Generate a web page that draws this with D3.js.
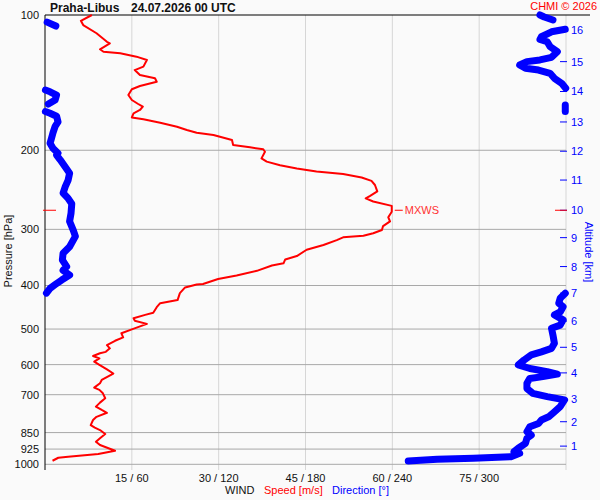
<!DOCTYPE html>
<head>
<meta charset="utf-8">
<style>
  body { margin: 0; background: #fafafa; }
  svg { display: block; }
  text { font-family: "Liberation Sans", Arial, sans-serif; }
</style>
</head>
<body>
<svg width="600" height="500"></svg>
<script src="https://cdn.jsdelivr.net/npm/d3@7"></script>
<script>

// wind speed profile: pressure [hPa] and speed [m/s]
var speedP = [982, 967, 962, 949, 933, 906, 891, 875, 856, 839, 829, 818, 797, 784, 768, 757, 744, 729, 713, 695,
  683, 675, 660, 649, 628, 615, 601, 591, 581, 574, 566, 562, 552, 543, 531, 522, 511, 501, 487, 479,
  473, 465, 460, 447, 438, 431, 416, 404, 398, 397, 387, 380, 371, 361, 357, 350, 344, 333, 325, 317,
  312.5, 310, 306, 301, 295, 288, 282, 274, 266, 260, 256, 253, 247, 239, 234, 230, 226, 223, 219.5, 216,
  212, 208.5, 201.5, 199, 197, 194.7, 189.8, 184.9, 182.8, 180.3, 177.3, 173.7, 170.7, 169, 165.5, 162.7, 160, 157.8, 154.6, 150.7,
  146.3, 143.9, 140.8, 138.3, 136, 132.6, 130.3, 125.9, 123.8, 121.7, 120.7, 119.2, 115.6, 114.7, 109.8, 105.3, 103, 100];
var speedV = [1.3, 2.3, 4.0, 9.2, 12.1, 9.5, 8.8, 9.5, 10.4, 9.5, 8.6, 7.9, 8.3, 8.9, 10.7, 9.8, 8.8, 9.5, 10.4, 10.0,
  9.4, 8.5, 9.5, 9.8, 11.8, 10.7, 9.4, 8.5, 9.4, 8.3, 9.5, 10.5, 11.2, 10.7, 12.1, 13.5, 13.2, 15.0, 17.6, 15.5,
  15.3, 17.3, 18.7, 19.3, 19.9, 22.9, 23.3, 24.2, 26.2, 27.3, 29.9, 33.1, 36.6, 39.2, 41.2, 41.5, 43.5, 45.2, 48.1, 50.4,
  51.5, 55.0, 56.7, 58.2, 58.4, 59.6, 59.3, 59.9, 59.9, 56.7, 55.4, 56.1, 57.4, 57.0, 56.4, 54.7, 51.5, 46.9, 43.5, 40.6,
  38.3, 37.4, 38.0, 37.7, 35.4, 32.5, 32.3, 29.1, 26.2, 24.5, 22.8, 19.9, 17.0, 15.0, 15.3, 16.4, 16.9, 16.1, 15.0, 14.4,
  15.0, 16.4, 19.3, 19.0, 16.4, 15.5, 17.0, 17.6, 15.8, 13.0, 10.1, 9.5, 11.2, 10.7, 8.9, 6.6, 6.2, 8.1];

// wind direction profile: pressure [hPa] and direction [deg]
var dirP = [983, 975, 970, 962, 945, 938, 921, 898, 875, 861, 846, 825, 811, 797, 784, 764, 744, 719, 707, 695,
  678, 660, 644, 638, 630, 622, 612, 601, 586, 571, 562, 552, 538, 516, 498, 490, 477, 465, 458, 446,
  438, 427, 416, 416, 406, 396, 389, 379, 370, 363, 351, 339, 328, 311, 301, 288, 276, 263, 256, 249,
  241, 233, 225, 218, 210, 205, 203, 198, 193, 188, 183, 177, 173, 168, 165.5, 164, 164, 158.6, 157.8, 154.6,
  150.7, 148.2, 146.9, 145.6, 141.9, 138.3, 134.8, 132.6, 131.4, 129.2, 127.0, 125.9, 124.2, 120.7, 117.6, 114.7, 113.3, 111.8, 109, 107.6,
  105.8, 103.7, 102.6, 101, 100];
var dirV = [251, 271, 296, 322, 328, 324, 327, 332, 333, 336, 333, 335, 341, 343, 348, 352, 356, 359, 347, 337,
  333, 333, 335, 344, 354, 347, 335, 327, 331, 336, 343, 350, 352, 351, 350, 356, 358, 352, 356, 358,
  355, 356, 359.5, 1, 3.5, 8, 11.5, 17, 12.5, 15, 12, 12.5, 17, 21, 19.5, 17, 18, 18.5, 16, 12.5,
  14, 16, 17, 14, 10.5, 8, 9, 5.5, 3.5, 4.5, 5.5, 7, 9, 8, 3.5, 0.3, 359.5, 359.5, 2.3, 7,
  8, 3.5, 0.3, 359.8, 357, 352, 349, 341, 332, 328, 333, 342, 350, 354, 349, 347, 342, 343, 350, 359.5,
  7.5, 1.5, 351, 345, 342];

var pressureTicks = [100, 200, 300, 400, 500, 600, 700, 850, 925, 1000];
var speedTicks = [15, 30, 45, 60, 75];
var dirTicks = [60, 120, 180, 240, 300];
var altKm = [1, 2, 3, 4, 5, 6, 7, 8, 9, 10, 11, 12, 13, 14, 15, 16];
var altP = [911, 804, 715, 626, 549, 480, 416, 363, 313, 272, 233, 201, 173, 148, 127, 108];
var mxwsP = 272;

var svg = d3.select("svg"),
    x0 = 45, x1 = 566, y0 = 15, y1 = 464.3;

var y = d3.scaleLog().domain([100, 1000]).range([y0, y1]);
var xs = d3.scaleLinear().domain([0, 90]).range([x0, x1]);
var xd = d3.scaleLinear().domain([0, 360]).range([x0, x1]);

// vertical grid
svg.append("g").selectAll("line")
  .data(speedTicks.concat([90]))
  .enter().append("line")
    .attr("x1", xs).attr("x2", xs)
    .attr("y1", y0).attr("y2", 470)
    .attr("stroke", "#d6d6d6");

// horizontal grid
svg.append("g").selectAll("line")
  .data(pressureTicks.slice(1))
  .enter().append("line")
    .attr("x1", x0).attr("x2", x1)
    .attr("y1", y).attr("y2", y)
    .attr("stroke", "#a8a8a8");

// frame
svg.append("line").attr("x1", x0).attr("x2", 590).attr("y1", y0).attr("y2", y0).attr("stroke", "#000");
svg.append("line").attr("x1", x0).attr("x2", x0).attr("y1", y0).attr("y2", 470).attr("stroke", "#000");

// pressure labels
svg.append("g").selectAll("text")
  .data(pressureTicks)
  .enter().append("text")
    .attr("x", 39).attr("y", y).attr("dy", "0.36em")
    .attr("text-anchor", "end").attr("font-size", 11).attr("fill", "#111")
    .text(function(d) { return d; });

svg.append("text")
  .attr("transform", "translate(12,251)rotate(-90)")
  .attr("text-anchor", "middle").attr("font-size", 11).attr("fill", "#111")
  .text("Pressure [hPa]");

// bottom labels
svg.append("g").selectAll("text")
  .data(speedTicks)
  .enter().append("text")
    .attr("x", xs).attr("y", 482)
    .attr("text-anchor", "middle").attr("font-size", 11).attr("fill", "#111")
    .text(function(d, i) { return d + " / " + dirTicks[i]; });

var cap = svg.append("text").attr("y", 494).attr("font-size", 11);
cap.append("tspan").attr("x", 225).attr("fill", "#111").text("WIND");
cap.append("tspan").attr("x", 264).attr("fill", "#ff0000").text("Speed [m/s]");
cap.append("tspan").attr("x", 332).attr("fill", "#0000ff").text("Direction [°]");

// altitude axis
var alt = svg.append("g").selectAll("g")
  .data(altKm)
  .enter().append("g")
    .attr("transform", function(d, i) { return "translate(0," + y(altP[i]) + ")"; });
alt.append("line").attr("x1", 560).attr("x2", 567).attr("stroke", "#0000ff");
alt.append("text")
  .attr("x", 571).attr("dy", "0.36em").attr("font-size", 11).attr("fill", "#0000ff")
  .text(function(d) { return d; });

svg.append("text")
  .attr("transform", "translate(585,252)rotate(90)")
  .attr("text-anchor", "middle").attr("font-size", 11).attr("fill", "#0000ff")
  .text("Altitude [km]");

// direction (split at 0/360 wrap)
var dirData = dirP.map(function(p, i) { return { p: p, d: dirV[i] }; });
var segs = [], cur = [];
dirData.forEach(function(pt, i) {
  if (i > 0 && Math.abs(pt.d - dirData[i - 1].d) > 180) { segs.push(cur); cur = []; }
  cur.push(pt);
});
segs.push(cur);

var dirLine = d3.line()
  .x(function(d) { return xd(d.d); })
  .y(function(d) { return y(d.p); });

svg.append("g").selectAll("path")
  .data(segs)
  .enter().append("path")
    .attr("d", dirLine)
    .attr("fill", "none")
    .attr("stroke", "#0000ff")
    .attr("stroke-width", 7)
    .attr("stroke-linecap", "round")
    .attr("stroke-linejoin", "round");

// speed
var spdData = speedP.map(function(p, i) { return { p: p, s: speedV[i] }; });
svg.append("path")
  .datum(spdData)
  .attr("d", d3.line().x(function(d) { return xs(d.s); }).y(function(d) { return y(d.p); }))
  .attr("fill", "none")
  .attr("stroke", "#ff0000")
  .attr("stroke-width", 2)
  .attr("stroke-linejoin", "round");

// max wind marker
var maxS = d3.max(speedV), my = y(mxwsP);
svg.append("line").attr("x1", xs(maxS) + 3).attr("x2", xs(maxS) + 11).attr("y1", my).attr("y2", my).attr("stroke", "#ff0000");
svg.append("text").attr("x", xs(maxS) + 13).attr("y", my).attr("dy", "0.36em")
  .attr("font-size", 11).attr("fill", "#ff3333").text("MXWS");
svg.append("line").attr("x1", 43).attr("x2", 56).attr("y1", my).attr("y2", my).attr("stroke", "#ff0000");
svg.append("line").attr("x1", 555).attr("x2", 567).attr("y1", my).attr("y2", my).attr("stroke", "#ff0000");

// title
svg.append("text").attr("x", 50).attr("y", 12).attr("font-size", 12).attr("font-weight", "bold").attr("fill", "#111").text("Praha-Libus");
svg.append("text").attr("x", 131).attr("y", 12).attr("font-size", 12).attr("font-weight", "bold").attr("fill", "#111").text("24.07.2026 00 UTC");
svg.append("text").attr("x", 597).attr("y", 10).attr("text-anchor", "end").attr("font-size", 11).attr("fill", "#ff0000").text("CHMI © 2026");

</script>
</body>
